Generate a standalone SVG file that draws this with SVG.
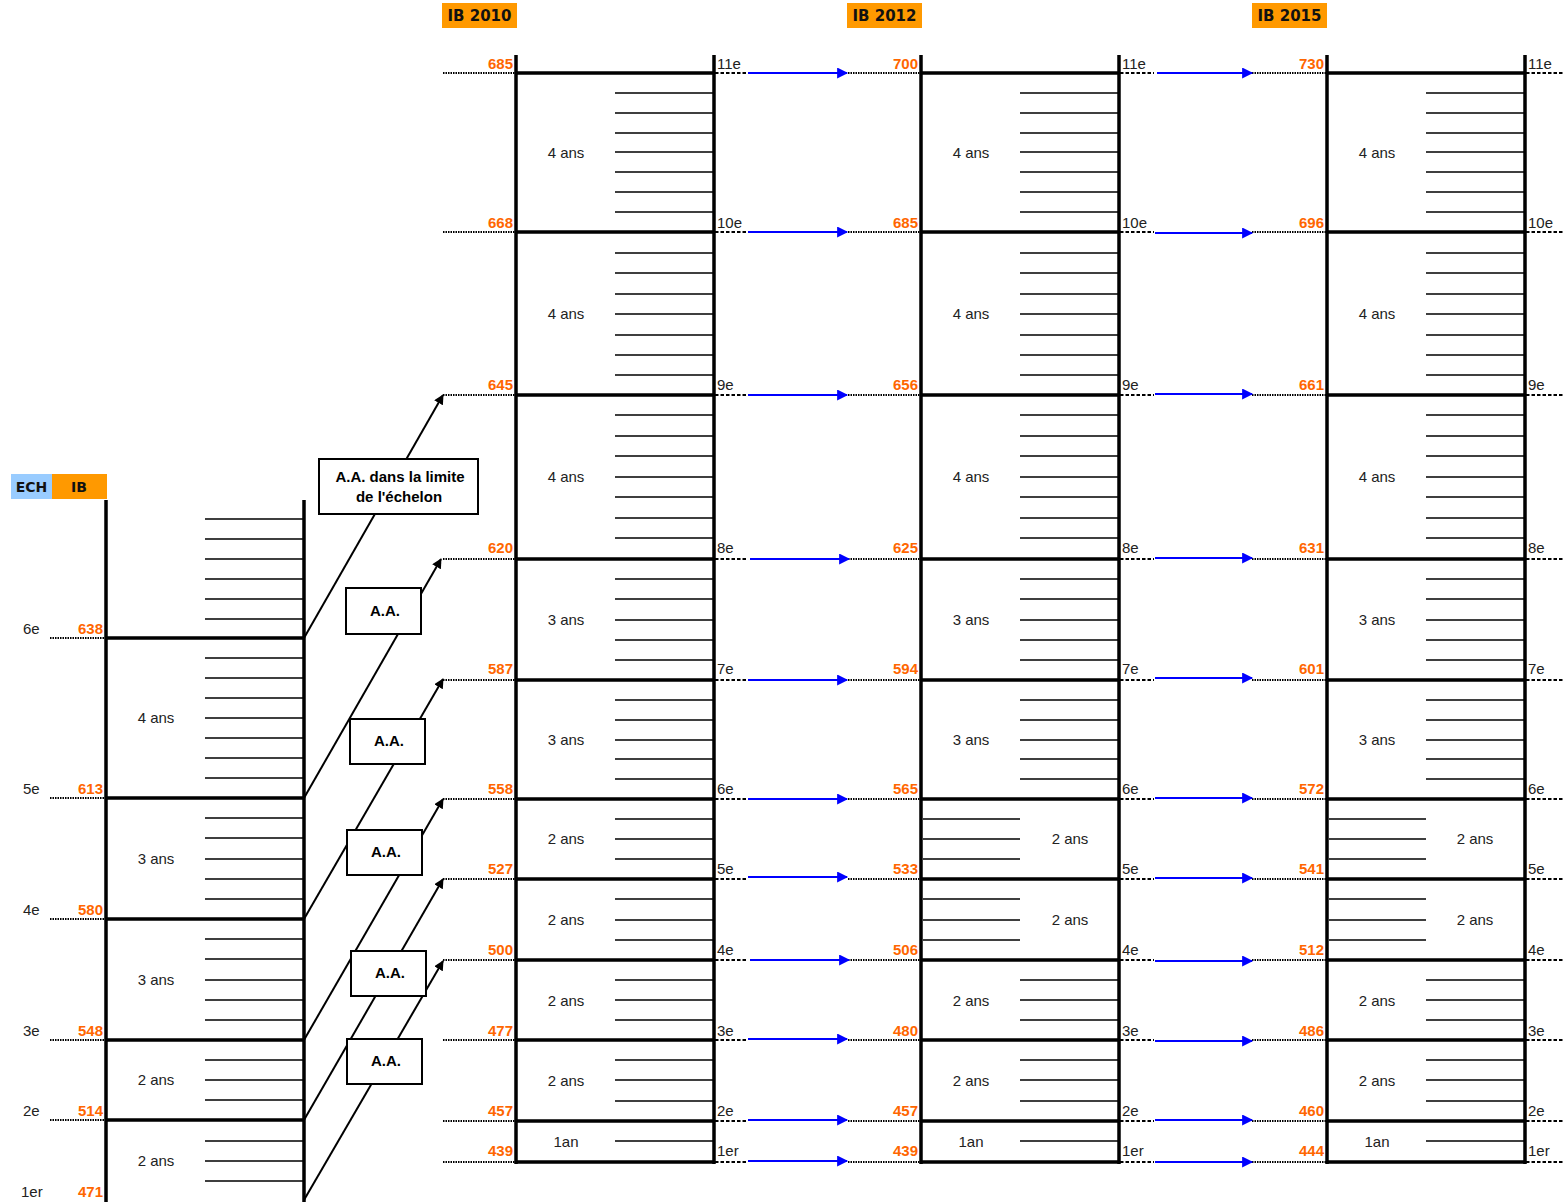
<svg xmlns="http://www.w3.org/2000/svg" width="1563" height="1202" viewBox="0 0 1563 1202">
<style>
.frame{fill:none;stroke:#000;stroke-width:3.5}
.hatch{fill:none;stroke:#000;stroke-width:1.7}
.dot{fill:none;stroke:#000;stroke-width:2;stroke-dasharray:1.5 1}
.dash{fill:none;stroke:#000;stroke-width:1.8;stroke-dasharray:3.5 2}
.dur{font-family:"Liberation Sans",Arial,sans-serif;font-size:15px;fill:#222;text-anchor:middle}
.rank{font-family:"Liberation Sans",Arial,sans-serif;font-size:15px;fill:#222}
.val{font-family:"Liberation Sans",Arial,sans-serif;font-size:15px;font-weight:bold;fill:#ff6600;text-anchor:end}
.hdr{font-family:"DejaVu Sans",sans-serif;font-size:15px;font-weight:bold;fill:#111;text-anchor:middle}
.box{fill:#fff;stroke:#000;stroke-width:2}
.boxt{font-family:"Liberation Sans",Arial,sans-serif;font-size:15px;font-weight:bold;fill:#000;text-anchor:middle}
.diag{fill:none;stroke:#000;stroke-width:2}
.blue{fill:none;stroke:#0000ff;stroke-width:2.2}
</style>
<defs>
<marker id="ah" viewBox="0 0 10 10" refX="9" refY="5" markerWidth="5" markerHeight="5" orient="auto" markerUnits="strokeWidth"><path d="M0 0L10 5L0 10z" fill="#000"/></marker>
<marker id="bh" viewBox="0 0 10 10" refX="9" refY="5" markerWidth="5.5" markerHeight="5" orient="auto" markerUnits="strokeWidth"><path d="M0 0L10 5L0 10z" fill="#0000ff"/></marker>
</defs>
<rect width="1563" height="1202" fill="#fff"/>

<g id="guides">
<path class="dot" d="M50 638H106M50 798H106M50 919H106M50 1040H106M50 1120H106"/>
<g transform="translate(516 0)">
<path class="dot" d="M-73 73H0M-73 232H0M-73 395H0M-73 559H0M-73 680H0M-73 799H0M-73 879H0M-73 960H0M-73 1040H0M-73 1121H0M-73 1162H0"/>
<path class="dash" d="M199 73H232M199 232H232M199 395H232M199 559H232M199 680H232M199 799H232M199 879H232M199 960H232M199 1040H232M199 1121H232M199 1162H232"/>
</g>
<g transform="translate(921 0)">
<path class="dot" d="M-73 73H0M-73 232H0M-73 395H0M-73 559H0M-73 680H0M-73 799H0M-73 879H0M-73 960H0M-73 1040H0M-73 1121H0M-73 1162H0"/>
<path class="dash" d="M199 73H233M199 232H233M199 395H233M199 559H233M199 680H233M199 799H233M199 879H233M199 960H233M199 1040H233M199 1121H233M199 1162H233"/>
</g>
<g transform="translate(1327 0)">
<path class="dot" d="M-75 73H0M-75 232H0M-75 395H0M-75 559H0M-75 680H0M-75 799H0M-75 879H0M-75 960H0M-75 1040H0M-75 1121H0M-75 1162H0"/>
<path class="dash" d="M199 73H236M199 232H236M199 395H236M199 559H236M199 680H236M199 799H236M199 879H236M199 960H236M199 1040H236M199 1121H236M199 1162H236"/>
</g>
</g>

<g id="connectors">
<path class="diag" marker-end="url(#ah)" d="M304 638L443 395"/>
<path class="diag" marker-end="url(#ah)" d="M304 798L441 559"/>
<path class="diag" marker-end="url(#ah)" d="M304 919L443 679"/>
<path class="diag" marker-end="url(#ah)" d="M304 1040L443 799"/>
<path class="diag" marker-end="url(#ah)" d="M304 1120L443 879"/>
<path class="diag" marker-end="url(#ah)" d="M304 1200L443 961"/>
<g id="blue-2010-2012">
<path class="blue" marker-end="url(#bh)" d="M748 73H847"/>
<path class="blue" marker-end="url(#bh)" d="M748 232H847"/>
<path class="blue" marker-end="url(#bh)" d="M748 395H847"/>
<path class="blue" marker-end="url(#bh)" d="M750 559H849"/>
<path class="blue" marker-end="url(#bh)" d="M748 680H847"/>
<path class="blue" marker-end="url(#bh)" d="M748 799H847"/>
<path class="blue" marker-end="url(#bh)" d="M748 877H847"/>
<path class="blue" marker-end="url(#bh)" d="M750 960H849"/>
<path class="blue" marker-end="url(#bh)" d="M748 1039H847"/>
<path class="blue" marker-end="url(#bh)" d="M748 1120H847"/>
<path class="blue" marker-end="url(#bh)" d="M748 1161H847"/>
</g>
<g id="blue-2012-2015">
<path class="blue" marker-end="url(#bh)" d="M1157 73H1252"/>
<path class="blue" marker-end="url(#bh)" d="M1155 233H1252"/>
<path class="blue" marker-end="url(#bh)" d="M1155 394H1252"/>
<path class="blue" marker-end="url(#bh)" d="M1155 558H1252"/>
<path class="blue" marker-end="url(#bh)" d="M1155 678H1252"/>
<path class="blue" marker-end="url(#bh)" d="M1155 798H1252"/>
<path class="blue" marker-end="url(#bh)" d="M1155 878H1252"/>
<path class="blue" marker-end="url(#bh)" d="M1155 961H1252"/>
<path class="blue" marker-end="url(#bh)" d="M1155 1041H1252"/>
<path class="blue" marker-end="url(#bh)" d="M1155 1120H1252"/>
<path class="blue" marker-end="url(#bh)" d="M1155 1162H1252"/>
</g>
</g>

<g id="header-left">
<rect x="11" y="474" width="41" height="25" fill="#99ccff"/>
<rect x="52" y="474" width="55" height="25" fill="#ff9900"/>
<text class="hdr" x="31.5" y="492" style="font-size:14px">ECH</text>
<text class="hdr" x="79" y="492" style="font-size:14px">IB</text>
</g>
<g id="header-2010"><rect x="442" y="3" width="75" height="25" fill="#ff9900"/><text class="hdr" x="479.5" y="21">IB 2010</text></g>
<g id="header-2012"><rect x="847" y="3" width="75" height="25" fill="#ff9900"/><text class="hdr" x="884.5" y="21">IB 2012</text></g>
<g id="header-2015"><rect x="1252" y="3" width="75" height="25" fill="#ff9900"/><text class="hdr" x="1289.5" y="21">IB 2015</text></g>

<g id="grid-old">
<path class="frame" d="M106 500V1202M304 500V1202M106 638H304M106 798H304M106 919H304M106 1040H304M106 1120H304"/>
<path class="hatch" d="M205 519H304M205 539H304M205 559H304M205 579H304M205 599H304M205 619H304M205 658H304M205 678H304M205 698H304M205 718H304M205 738H304M205 758H304M205 778H304M205 818H304M205 838H304M205 859H304M205 879H304M205 899H304M205 939H304M205 959H304M205 980H304M205 1000H304M205 1020H304M205 1060H304M205 1080H304M205 1100H304M205 1141H304M205 1161H304M205 1181H304"/>
<text class="dur" x="156" y="723">4 ans</text>
<text class="dur" x="156" y="864">3 ans</text>
<text class="dur" x="156" y="985">3 ans</text>
<text class="dur" x="156" y="1085">2 ans</text>
<text class="dur" x="156" y="1166">2 ans</text>
<text class="rank" x="23" y="634">6e</text>
<text class="rank" x="23" y="794">5e</text>
<text class="rank" x="23" y="915">4e</text>
<text class="rank" x="23" y="1036">3e</text>
<text class="rank" x="23" y="1116">2e</text>
<text class="rank" x="21" y="1197">1er</text>
<text class="val" x="103" y="634">638</text>
<text class="val" x="103" y="794">613</text>
<text class="val" x="103" y="915">580</text>
<text class="val" x="103" y="1036">548</text>
<text class="val" x="103" y="1116">514</text>
<text class="val" x="103" y="1197">471</text>
</g>

<g id="box-limite"><rect class="box" x="319" y="459" width="159" height="55"/><text class="boxt" x="400" y="482">A.A. dans la limite</text><text class="boxt" x="399" y="502">de l'échelon</text></g>
<g id="box-aa-1"><rect class="box" x="346" y="588" width="75" height="46"/><text class="boxt" x="385" y="616">A.A.</text></g>
<g id="box-aa-2"><rect class="box" x="350" y="719" width="75" height="45"/><text class="boxt" x="389" y="746">A.A.</text></g>
<g id="box-aa-3"><rect class="box" x="347" y="830" width="75" height="45"/><text class="boxt" x="386" y="857">A.A.</text></g>
<g id="box-aa-4"><rect class="box" x="351" y="951" width="75" height="45"/><text class="boxt" x="390" y="978">A.A.</text></g>
<g id="box-aa-5"><rect class="box" x="347" y="1039" width="75" height="45"/><text class="boxt" x="386" y="1066">A.A.</text></g>

<g id="grid-2010" transform="translate(516 0)">
<path class="frame" d="M0 55V1164M198 55V1164M0 73H198M0 232H198M0 395H198M0 559H198M0 680H198M0 799H198M0 879H198M0 960H198M0 1040H198M0 1121H198M0 1162H198"/>
<path class="hatch" d="M99 93H198M99 113H198M99 133H198M99 152H198M99 172H198M99 192H198M99 212H198M99 253H198M99 273H198M99 294H198M99 314H198M99 335H198M99 355H198M99 375H198M99 415H198M99 436H198M99 456H198M99 477H198M99 497H198M99 518H198M99 538H198M99 579H198M99 599H198M99 620H198M99 640H198M99 660H198M99 700H198M99 720H198M99 740H198M99 759H198M99 779H198M99 819H198M99 839H198M99 859H198M99 899H198M99 920H198M99 940H198M99 980H198M99 1000H198M99 1020H198M99 1060H198M99 1080H198M99 1101H198M99 1141H198"/>
<text class="dur" x="50" y="158">4 ans</text>
<text class="dur" x="50" y="319">4 ans</text>
<text class="dur" x="50" y="482">4 ans</text>
<text class="dur" x="50" y="625">3 ans</text>
<text class="dur" x="50" y="745">3 ans</text>
<text class="dur" x="50" y="844">2 ans</text>
<text class="dur" x="50" y="925">2 ans</text>
<text class="dur" x="50" y="1006">2 ans</text>
<text class="dur" x="50" y="1086">2 ans</text>
<text class="dur" x="50" y="1147">1an</text>
<text class="val" x="-3" y="69">685</text>
<text class="val" x="-3" y="228">668</text>
<text class="val" x="-3" y="390">645</text>
<text class="val" x="-3" y="553">620</text>
<text class="val" x="-3" y="674">587</text>
<text class="val" x="-3" y="794">558</text>
<text class="val" x="-3" y="874">527</text>
<text class="val" x="-3" y="955">500</text>
<text class="val" x="-3" y="1036">477</text>
<text class="val" x="-3" y="1116">457</text>
<text class="val" x="-3" y="1156">439</text>
<text class="rank" x="201" y="69">11e</text>
<text class="rank" x="201" y="228">10e</text>
<text class="rank" x="201" y="390">9e</text>
<text class="rank" x="201" y="553">8e</text>
<text class="rank" x="201" y="674">7e</text>
<text class="rank" x="201" y="794">6e</text>
<text class="rank" x="201" y="874">5e</text>
<text class="rank" x="201" y="955">4e</text>
<text class="rank" x="201" y="1036">3e</text>
<text class="rank" x="201" y="1116">2e</text>
<text class="rank" x="201" y="1156">1er</text>
</g>

<g id="grid-2012" transform="translate(921 0)">
<path class="frame" d="M0 55V1164M198 55V1164M0 73H198M0 232H198M0 395H198M0 559H198M0 680H198M0 799H198M0 879H198M0 960H198M0 1040H198M0 1121H198M0 1162H198"/>
<path class="hatch" d="M99 93H198M99 113H198M99 133H198M99 152H198M99 172H198M99 192H198M99 212H198M99 253H198M99 273H198M99 294H198M99 314H198M99 335H198M99 355H198M99 375H198M99 415H198M99 436H198M99 456H198M99 477H198M99 497H198M99 518H198M99 538H198M99 579H198M99 599H198M99 620H198M99 640H198M99 660H198M99 700H198M99 720H198M99 740H198M99 759H198M99 779H198M2 819H99M2 839H99M2 859H99M2 899H99M2 920H99M2 940H99M99 980H198M99 1000H198M99 1020H198M99 1060H198M99 1080H198M99 1101H198M99 1141H198"/>
<text class="dur" x="50" y="158">4 ans</text>
<text class="dur" x="50" y="319">4 ans</text>
<text class="dur" x="50" y="482">4 ans</text>
<text class="dur" x="50" y="625">3 ans</text>
<text class="dur" x="50" y="745">3 ans</text>
<text class="dur" x="149" y="844">2 ans</text>
<text class="dur" x="149" y="925">2 ans</text>
<text class="dur" x="50" y="1006">2 ans</text>
<text class="dur" x="50" y="1086">2 ans</text>
<text class="dur" x="50" y="1147">1an</text>
<text class="val" x="-3" y="69">700</text>
<text class="val" x="-3" y="228">685</text>
<text class="val" x="-3" y="390">656</text>
<text class="val" x="-3" y="553">625</text>
<text class="val" x="-3" y="674">594</text>
<text class="val" x="-3" y="794">565</text>
<text class="val" x="-3" y="874">533</text>
<text class="val" x="-3" y="955">506</text>
<text class="val" x="-3" y="1036">480</text>
<text class="val" x="-3" y="1116">457</text>
<text class="val" x="-3" y="1156">439</text>
<text class="rank" x="201" y="69">11e</text>
<text class="rank" x="201" y="228">10e</text>
<text class="rank" x="201" y="390">9e</text>
<text class="rank" x="201" y="553">8e</text>
<text class="rank" x="201" y="674">7e</text>
<text class="rank" x="201" y="794">6e</text>
<text class="rank" x="201" y="874">5e</text>
<text class="rank" x="201" y="955">4e</text>
<text class="rank" x="201" y="1036">3e</text>
<text class="rank" x="201" y="1116">2e</text>
<text class="rank" x="201" y="1156">1er</text>
</g>

<g id="grid-2015" transform="translate(1327 0)">
<path class="frame" d="M0 55V1164M198 55V1164M0 73H198M0 232H198M0 395H198M0 559H198M0 680H198M0 799H198M0 879H198M0 960H198M0 1040H198M0 1121H198M0 1162H198"/>
<path class="hatch" d="M99 93H198M99 113H198M99 133H198M99 152H198M99 172H198M99 192H198M99 212H198M99 253H198M99 273H198M99 294H198M99 314H198M99 335H198M99 355H198M99 375H198M99 415H198M99 436H198M99 456H198M99 477H198M99 497H198M99 518H198M99 538H198M99 579H198M99 599H198M99 620H198M99 640H198M99 660H198M99 700H198M99 720H198M99 740H198M99 759H198M99 779H198M2 819H99M2 839H99M2 859H99M2 899H99M2 920H99M2 940H99M99 980H198M99 1000H198M99 1020H198M99 1060H198M99 1080H198M99 1101H198M99 1141H198"/>
<text class="dur" x="50" y="158">4 ans</text>
<text class="dur" x="50" y="319">4 ans</text>
<text class="dur" x="50" y="482">4 ans</text>
<text class="dur" x="50" y="625">3 ans</text>
<text class="dur" x="50" y="745">3 ans</text>
<text class="dur" x="148" y="844">2 ans</text>
<text class="dur" x="148" y="925">2 ans</text>
<text class="dur" x="50" y="1006">2 ans</text>
<text class="dur" x="50" y="1086">2 ans</text>
<text class="dur" x="50" y="1147">1an</text>
<text class="val" x="-3" y="69">730</text>
<text class="val" x="-3" y="228">696</text>
<text class="val" x="-3" y="390">661</text>
<text class="val" x="-3" y="553">631</text>
<text class="val" x="-3" y="674">601</text>
<text class="val" x="-3" y="794">572</text>
<text class="val" x="-3" y="874">541</text>
<text class="val" x="-3" y="955">512</text>
<text class="val" x="-3" y="1036">486</text>
<text class="val" x="-3" y="1116">460</text>
<text class="val" x="-3" y="1156">444</text>
<text class="rank" x="201" y="69">11e</text>
<text class="rank" x="201" y="228">10e</text>
<text class="rank" x="201" y="390">9e</text>
<text class="rank" x="201" y="553">8e</text>
<text class="rank" x="201" y="674">7e</text>
<text class="rank" x="201" y="794">6e</text>
<text class="rank" x="201" y="874">5e</text>
<text class="rank" x="201" y="955">4e</text>
<text class="rank" x="201" y="1036">3e</text>
<text class="rank" x="201" y="1116">2e</text>
<text class="rank" x="201" y="1156">1er</text>
</g>
</svg>
